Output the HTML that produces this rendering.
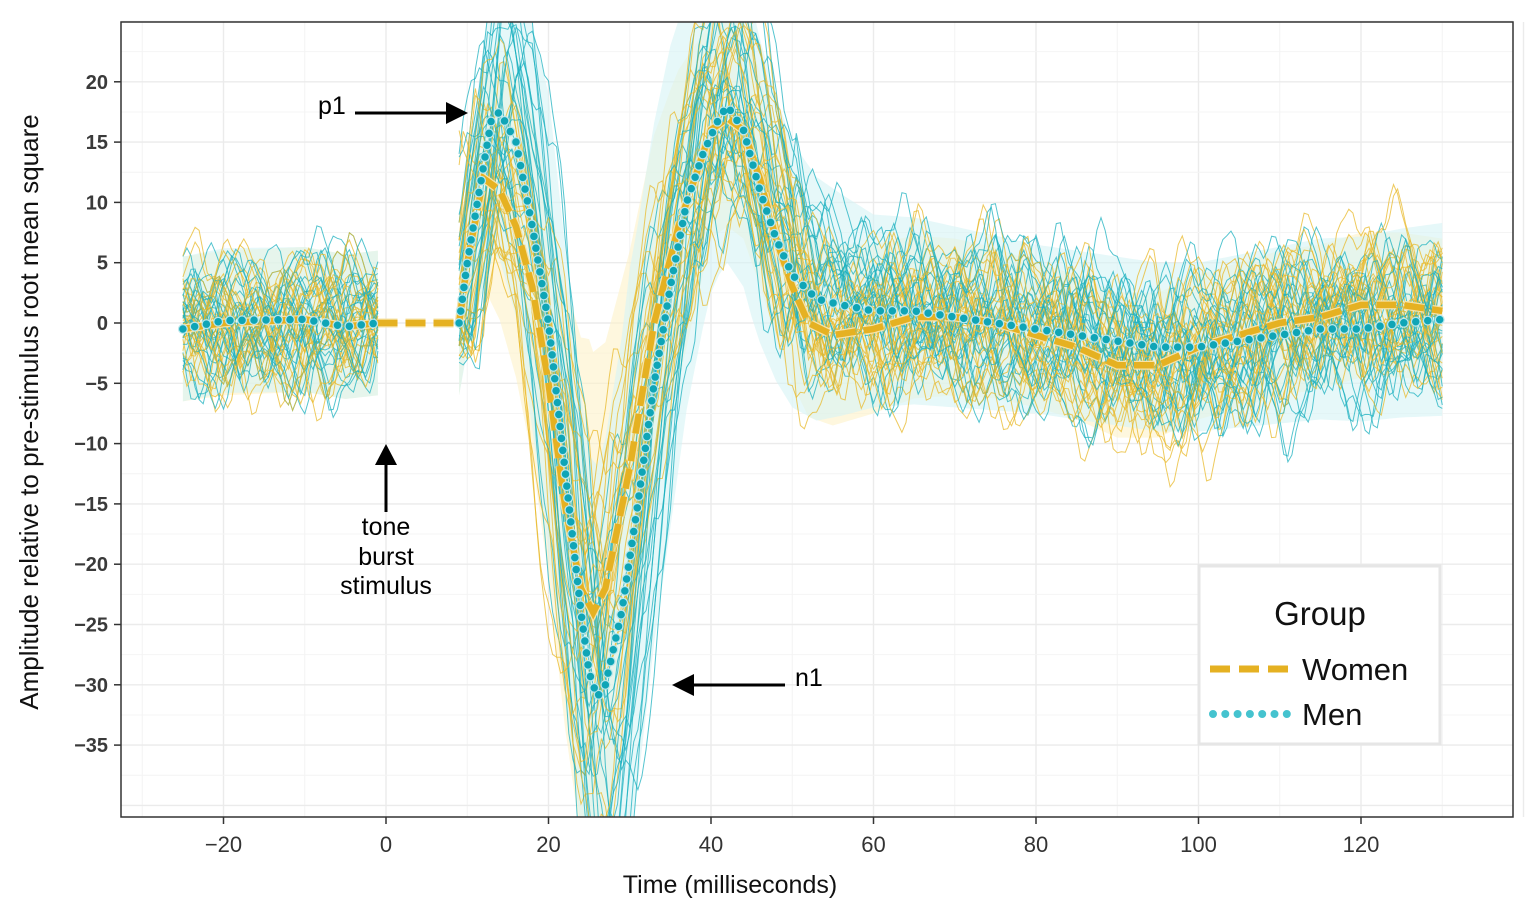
<!DOCTYPE html>
<html><head><meta charset="utf-8"><style>
html,body{margin:0;padding:0;background:#fff;overflow:hidden;width:1535px;height:909px;}
svg{display:block;font-family:"Liberation Sans",sans-serif;}
</style></head><body>
<svg id="chart" width="1535" height="909" viewBox="0 0 1535 909" xmlns="http://www.w3.org/2000/svg">
<defs><clipPath id="clip"><rect x="121" y="22" width="1392" height="795"/></clipPath></defs>
<rect x="0" y="0" width="1535" height="909" fill="#fff"/>
<g id="grid"></g>
<g id="ribbons" clip-path="url(#clip)"></g>
<g id="traces" clip-path="url(#clip)"></g>
<g id="means" clip-path="url(#clip)"></g>
<rect x="121" y="22" width="1392" height="795" fill="none" stroke="#333" stroke-width="1.5"/>
<g id="axes"></g>
<text x="730" y="893" text-anchor="middle" font-size="25" fill="#111">Time (milliseconds)</text>
<text transform="translate(38,412) rotate(-90)" text-anchor="middle" font-size="26" fill="#111">Amplitude relative to pre-stimulus root mean square</text>
<g>
<text x="318" y="114" font-size="25" fill="#000">p1</text>
<line x1="355" y1="113" x2="448" y2="113" stroke="#000" stroke-width="3"/>
<polygon points="468,113 446,102 446,124" fill="#000"/>
</g>
<g>
<line x1="386" y1="512" x2="386" y2="462" stroke="#000" stroke-width="3"/>
<polygon points="386,444 375,465 397,465" fill="#000"/>
<text x="386" y="535" text-anchor="middle" font-size="25" fill="#000">tone</text>
<text x="386" y="565" text-anchor="middle" font-size="25" fill="#000">burst</text>
<text x="386" y="594" text-anchor="middle" font-size="25" fill="#000">stimulus</text>
</g>
<g>
<line x1="785" y1="685" x2="692" y2="685" stroke="#000" stroke-width="3"/>
<polygon points="672,685 694,674 694,696" fill="#000"/>
<text x="795" y="686" font-size="25" fill="#000">n1</text>
</g>
<g>
<rect x="1199" y="566" width="241" height="178" fill="#fff" stroke="#e6e6e6" stroke-width="3"/>
<text x="1320" y="625" text-anchor="middle" font-size="33" fill="#111">Group</text>
<line x1="1210" y1="669" x2="1290" y2="669" stroke="#E5B122" stroke-width="7" stroke-dasharray="20 9"/>
<text x="1302" y="680" font-size="31" fill="#111">Women</text>
<line x1="1213" y1="714" x2="1290" y2="714" stroke="#45C3CF" stroke-width="8" stroke-linecap="round" stroke-dasharray="0 12.3"/>
<text x="1302" y="725" font-size="31" fill="#111">Men</text>
</g>
</svg>
<script>
const xTicks=[-20,0,20,40,60,80,100,120];
const yTicks=[20,15,10,5,0,-5,-10,-15,-20,-25,-30,-35];
const womenT=[-25,-20,-10,-5,-1,0,9,10,12,14,16,18,20,22,24,25.5,27,30,33,36,38,40,42,44,46,48,50,52,55,60,65,70,75,80,85,90,95,100,105,110,115,120,125,130];
const womenV=[-0.5,0,0.3,-0.3,0,0,0,5,12,11,8,3,-5,-15,-22,-24,-22,-12,0,8,12,16,17,16,12,7,3,0,-1,-0.5,0.5,0.5,0,-1,-2,-3.5,-3.5,-2,-1,0,0.5,1.5,1.5,1];
const menT=[-25,-20,-10,-5,-1,9,10,12,13,14,16,18,20,22,24,25,26,27,29,31,33,35,37,39,41,42,44,46,48,50,53,56,60,65,70,75,80,85,90,95,100,105,110,115,120,125,130];
const menV=[-0.5,0.2,0.3,-0.3,0,0,5,13,17,17.5,15,8,0,-12,-24,-29,-31,-30,-24,-15,-5,3,10,14,17,18,16,11,7,4,2,1.5,1,1,0.5,0,-0.5,-1,-1.5,-2,-2,-1.5,-1,-0.5,-0.5,0,0.3];
const sdT=[-25,-1,9,12,20,25,30,35,40,45,50,60,80,100,130];
const womenSD=[6,6,6,9,16,22,18,14,9,9,8,7,6,6,6];
const menSD=[6,6,6,10,19,18,24,20,13,13,11,8,7,7,8];
const wScale=[0.7,1.3,0.9,1.6,1.1,0.8,1.4,1.0,1.2,0.6,1.8,0.9,1.3,1.1,1.5,0.75,1.0,1.25,0.85,1.45,1.05,0.95,1.7,1.15,0.65,1.35,1.0,1.2];
const wShift=[0,1,-1,2,-2,0.5,1.5,-0.5,3,-1.5,0,2.5,-2.5,1,-1,0,2,-3,1,0.5,-0.5,1.5,0,-2,3,-1,0.5,2];
const mScale=[1.0,1.4,0.8,1.7,1.2,0.9,1.5,1.1,1.3,0.7,1.9,1.0,1.2,1.6,0.85,1.05,1.35,0.95,1.25,1.55,0.75,1.15,1.45,1.0,1.3,0.9,1.1,1.6];
const mShift=[0,-1,1,2,-2,0.5,-0.5,1.5,3,-1.5,0,2.5,-2.5,1,-1,0,2,-3,1,0.5,-0.5,1.5,0,-2,3,-1,0.5,2];
const phaseA=[0.1,1.3,2.5,3.7,4.9,0.6,1.8,3.0,4.2,5.4,0.9,2.1,3.3,4.5,5.7,0.3,1.5,2.7,3.9,5.1,0.7,1.9,3.1,4.3,5.5,0.2,1.4,2.6];
const phaseB=[2.2,0.4,5.1,3.3,1.6,4.4,0.8,2.9,5.8,1.1,3.7,0.2,4.8,2.5,5.3,1.9,3.9,0.6,4.1,2.0,5.6,1.3,3.5,0.9,4.6,2.8,5.0,1.7];
const wOffs=[2,-3,1,-1,3,-2,0,4,-4,1.5,-1.5,2.5,-2.5,0.5,-0.5,3.5,-3.5,1,-1,2,-2,0,3,-3,1.5,-1.5,0.5,-0.5];
const mOffs=[-1,2.5,-3.5,0.5,3,-2,1.5,-4,4,-0.5,2,-2.5,1,-1.5,3.5,-3,0,2.5,-1,1,-2,4,-3.5,0.5,1.5,-0.5,-2.5,3];

const X0=386,PX=8.125,Y0=323,PY=12.06;
const sx=t=>X0+t*PX, sy=v=>Y0-v*PY;
const NS='http://www.w3.org/2000/svg';
function mk(tag,attrs,parent){const e=document.createElementNS(NS,tag);for(const k in attrs)e.setAttribute(k,attrs[k]);parent.appendChild(e);return e;}
function interp(T,V,t){if(t<=T[0])return V[0];for(let i=1;i<T.length;i++){if(t<=T[i]){const f=(t-T[i-1])/(T[i]-T[i-1]);return V[i-1]+f*(V[i]-V[i-1]);}}return V[V.length-1];}

const grid=document.getElementById('grid');
for(let t=-30;t<=140;t+=10){const g=mk('line',{x1:sx(t),x2:sx(t),y1:22,y2:817,stroke:t%20===0?'#ebebeb':'#f4f4f4','stroke-width':t%20===0?1.4:1},grid);}
for(let v=-40;v<=25;v+=2.5){const g=mk('line',{x1:121,x2:1513,y1:sy(v),y2:sy(v),stroke:v%5===0?'#ebebeb':'#f4f4f4','stroke-width':v%5===0?1.4:1},grid);}
const axes=document.getElementById('axes');
xTicks.forEach(t=>{mk('line',{x1:sx(t),x2:sx(t),y1:817,y2:824,stroke:'#333','stroke-width':1.5},axes);const e=mk('text',{x:sx(t),y:852,'text-anchor':'middle','font-size':22,fill:'#333'},axes);e.textContent=(t<0?'\u2212'+(-t):t);});
yTicks.forEach(v=>{mk('line',{x1:114,x2:121,y1:sy(v),y2:sy(v),stroke:'#333','stroke-width':1.5},axes);const e=mk('text',{x:108,y:sy(v)+7,'text-anchor':'end','font-size':20,'font-weight':'bold',fill:'#3a3a3a'},axes);e.textContent=(v<0?'\u2212'+(-v):v);});

function meanAt(g,t){return g==='w'?interp(womenT,womenV,t):interp(menT,menV,t);}
const rib=document.getElementById('ribbons');
[['w',womenSD,'#fdf1c8'],['m',menSD,'#d6f3f5']].forEach(([g,sd,c])=>{
 [[-25,-1],[9,130]].forEach(([a,b])=>{let up=[],dn=[];for(let t=a;t<=b;t+=0.5){const m=meanAt(g,t),s=interp(sdT,sd,t);up.push(sx(t)+','+sy(m+s));dn.unshift(sx(t)+','+sy(m-s));}
 const p=mk('polygon',{points:up.concat(dn).join(' '),fill:c,opacity:0.6},rib);});
});
const tr=document.getElementById('traces');
function env(t){return t<9?1:t<20?0.9:t<50?1.3:1.15;}
function trace(g,i){const sc=g==='w'?wScale[i]:mScale[i],sh=g==='w'?wShift[i]:mShift[i],off=g==='w'?wOffs[i]:mOffs[i];
 const col=g==='w'?'#E8B828':'#1BB0BF';
 [[-25,-1],[9,130]].forEach(([a,b])=>{let pts=[];for(let t=a;t<=b;t+=0.5){let base=t<5?off*0.8:meanAt(g,t-sh)*sc+off*(t>50?1.0:0.3);
  const w=(2.4*Math.sin(t*0.75+phaseA[i])+1.0*Math.sin(t*1.6+phaseB[i])+1.8*Math.sin(t*0.22+phaseA[i]*1.7)+0.5*Math.sin(t*3.1+phaseB[i]*2))*env(t);
  pts.push(sx(t).toFixed(1)+','+sy(base+w).toFixed(1));}
  const p=mk('polyline',{points:pts.join(' '),fill:'none',stroke:col,'stroke-width':1,opacity:0.75},tr);
  
  });}
for(let i=0;i<wScale.length;i++){trace('m',i);trace('w',i);}
const mg=document.getElementById('means');
function meanPath(T,V,skip){let pts=[],segs=[];for(let t=T[0];t<=130;t+=0.25){if(skip&&t>-1&&t<9){if(pts.length){segs.push(pts.join(' '));pts=[];}continue;}pts.push(sx(t).toFixed(1)+','+sy(interp(T,V,t)).toFixed(1));}segs.push(pts.join(' '));return segs;}
const wp=meanPath(womenT,womenV,false),mp=meanPath(menT,menV,true);
let e;
wp.forEach(s=>{
e=mk('polyline',{points:s,fill:'none',stroke:'#f6e3a8','stroke-width':9,'stroke-dasharray':'20 8'},mg);


e=mk('polyline',{points:s,fill:'none',stroke:'#E5B122','stroke-width':6.5,'stroke-dasharray':'20 8'},mg);


});
mp.forEach(s=>{
e=mk('polyline',{points:s,fill:'none',stroke:'#b9e7ec','stroke-width':10,'stroke-linecap':'round','stroke-dasharray':'0 12'},mg);


e=mk('polyline',{points:s,fill:'none',stroke:'#0FA5B6','stroke-width':7.5,'stroke-linecap':'round','stroke-dasharray':'0 12'},mg);


});
</script>
</body></html>
